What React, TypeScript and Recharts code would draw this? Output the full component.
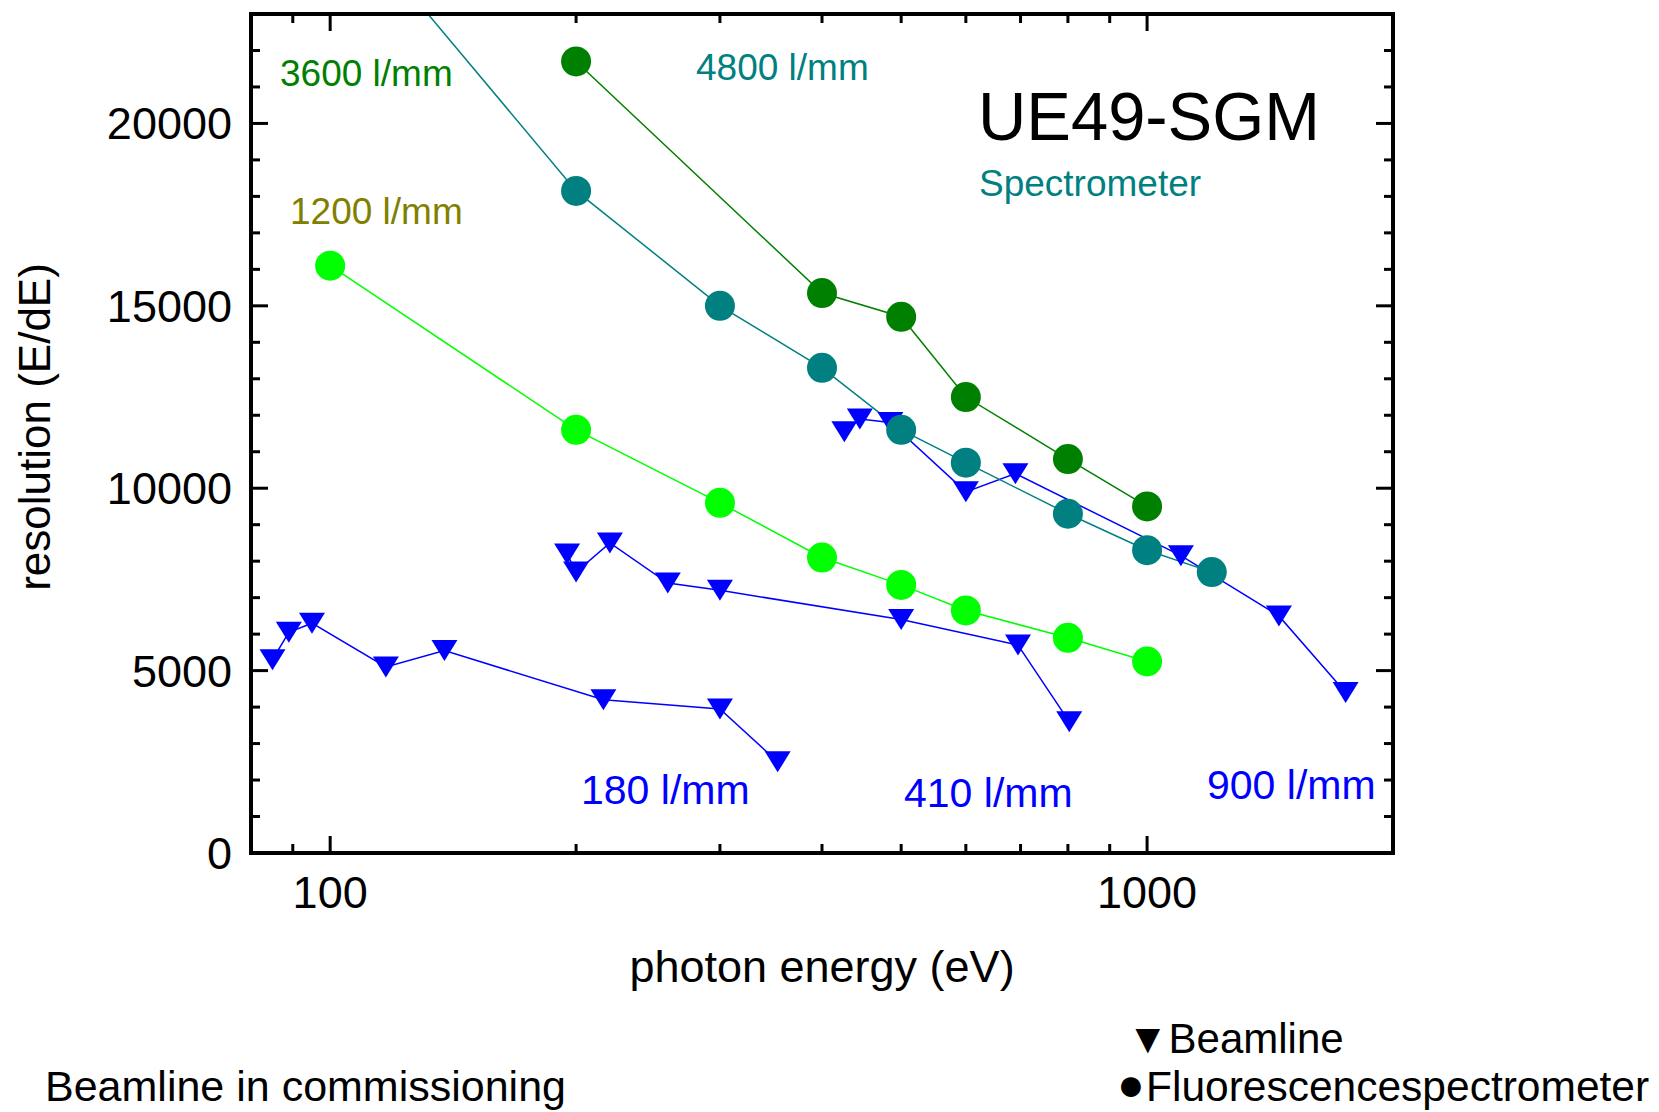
import React from "react";
import { LineChart, Line, XAxis, YAxis } from "recharts";

// photon energy (eV) and resolving power (E/dE)
const energy180 = [85, 89, 95, 117, 138, 216, 300, 353];
const res180 = [5300, 6050, 6300, 5100, 5550, 4200, 3950, 2500];

const energy410 = [195, 200, 220, 259, 300, 500, 695, 803];
const res410 = [8200, 7700, 8500, 7400, 7200, 6400, 5700, 3600];

const energy900 = [426, 445, 485, 600, 690, 1100, 1450, 1750];
const res900 = [11550, 11900, 11800, 9900, 10400, 8150, 6500, 4400];

const energy1200 = [100, 200, 300, 400, 500, 600, 800, 1000];
const res1200 = [16100, 11600, 9600, 8100, 7350, 6650, 5900, 5250];

const energy3600 = [200, 400, 500, 600, 800, 1000];
const res3600 = [21700, 15350, 14700, 12500, 10800, 9500];

// first point lies above the frame, only its line shows
const energy4800 = [100, 200, 300, 400, 500, 600, 800, 1000, 1200];
const res4800 = [26200, 18150, 15000, 13300, 11600, 10700, 9300, 8300, 7700];

const xTicks = [90, 100, 200, 300, 400, 500, 600, 700, 800, 900, 1000, 2000];
const xLabels = [100, 1000];
const yTicks = [
  0, 1000, 2000, 3000, 4000, 5000, 6000, 7000, 8000, 9000, 10000, 11000,
  12000, 13000, 14000, 15000, 16000, 17000, 18000, 19000, 20000, 21000, 22000,
];
const yLabels = [0, 5000, 10000, 15000, 20000];

const FONT = '"Liberation Sans", Arial, Helvetica, sans-serif';
const BLUE = "#0000ff";
const TEAL = "#008080";
const DKGREEN = "#008000";
const LIME = "#00ff00";

const toPoints = (xs: number[], ys: number[]) => xs.map((x, i) => ({ x, y: ys[i] }));

const MAJOR = 17;
const MINOR = 9;

// ticks point into the frame, like in Origin
function BottomTick({ x, y, payload }: any) {
  const major = xLabels.includes(payload.value);
  return (
    <g>
      <line x1={x} x2={x} y1={y} y2={y - (major ? MAJOR : MINOR)} stroke="#000" strokeWidth={3} />
      {major && (
        <text x={x} y={y + 55} textAnchor="middle" fontSize={45} fontFamily={FONT} fill="#000">
          {payload.value}
        </text>
      )}
    </g>
  );
}

function TopTick({ x, y, payload }: any) {
  const major = xLabels.includes(payload.value);
  return <line x1={x} x2={x} y1={y} y2={y + (major ? MAJOR : MINOR)} stroke="#000" strokeWidth={3} />;
}

function LeftTick({ x, y, payload }: any) {
  const major = yLabels.includes(payload.value);
  return (
    <g>
      <line x1={x} x2={x + (major ? MAJOR : MINOR)} y1={y} y2={y} stroke="#000" strokeWidth={3} />
      {major && (
        <text x={x - 19} y={y + 16} textAnchor="end" fontSize={45} fontFamily={FONT} fill="#000">
          {payload.value}
        </text>
      )}
    </g>
  );
}

function RightTick({ x, y, payload }: any) {
  const major = yLabels.includes(payload.value);
  return <line x1={x} x2={x - (major ? MAJOR : MINOR)} y1={y} y2={y} stroke="#000" strokeWidth={3} />;
}

// Origin style "down triangle" marker
const triangleDot = (props: any) => {
  const { cx, cy, index } = props;
  if (cx == null || cy == null) return <g key={`t-${index}`} />;
  return (
    <polygon
      key={`t-${index}`}
      points={`${cx - 13},${cy - 10.5} ${cx + 13},${cy - 10.5} ${cx},${cy + 10.5}`}
      fill={BLUE}
    />
  );
};

const circleDot = (color: string) => ({ r: 15, fill: color, stroke: "none", strokeWidth: 0 });

const axisLine = { stroke: "#000", strokeWidth: 4, strokeLinecap: "square" as const };

export default function App() {
  const lineProps = {
    type: "linear" as const,
    dataKey: "y",
    strokeWidth: 1.5,
    isAnimationActive: false,
    activeDot: false,
  };

  return (
    <div style={{ position: "absolute", left: 0, top: 0, width: 1659, height: 1112, background: "#fff" }}>
      <LineChart width={1659} height={1112} margin={{ top: 13, right: 265, bottom: 0, left: 0 }}>
        <XAxis
          dataKey="x"
          type="number"
          scale="log"
          domain={[80, 2000]}
          allowDataOverflow
          ticks={xTicks}
          interval={0}
          height={259}
          tickSize={0}
          tickMargin={0}
          tickLine={false}
          axisLine={axisLine}
          tick={<BottomTick />}
        />
        {/* mirrored frame: top and right axes carry ticks only */}
        <XAxis
          xAxisId="top"
          orientation="top"
          dataKey="x"
          type="number"
          scale="log"
          domain={[80, 2000]}
          allowDataOverflow
          ticks={xTicks}
          interval={0}
          height={1}
          tickSize={0}
          tickMargin={0}
          tickLine={false}
          axisLine={axisLine}
          tick={<TopTick />}
        />
        <YAxis
          type="number"
          domain={[0, 23000]}
          allowDataOverflow
          ticks={yTicks}
          interval={0}
          width={251}
          tickSize={0}
          tickMargin={0}
          tickLine={false}
          axisLine={axisLine}
          tick={<LeftTick />}
        />
        <YAxis
          yAxisId="right"
          orientation="right"
          type="number"
          domain={[0, 23000]}
          allowDataOverflow
          ticks={yTicks}
          interval={0}
          width={1}
          tickSize={0}
          tickMargin={0}
          tickLine={false}
          axisLine={axisLine}
          tick={<RightTick />}
        />

        <Line {...lineProps} data={toPoints(energy180, res180)} stroke={BLUE} dot={triangleDot} />
        <Line {...lineProps} data={toPoints(energy410, res410)} stroke={BLUE} dot={triangleDot} />
        <Line {...lineProps} data={toPoints(energy900, res900)} stroke={BLUE} dot={triangleDot} />
        <Line {...lineProps} data={toPoints(energy1200, res1200)} stroke={LIME} dot={circleDot(LIME)} />
        <Line {...lineProps} data={toPoints(energy4800, res4800)} stroke={TEAL} dot={circleDot(TEAL)} />
        <Line {...lineProps} data={toPoints(energy3600, res3600)} stroke={DKGREEN} dot={circleDot(DKGREEN)} />
      </LineChart>

      {/* annotations, axis titles and the hand-made legend */}
      <svg
        width={1659}
        height={1112}
        style={{ position: "absolute", left: 0, top: 0, pointerEvents: "none" }}
        fontFamily={FONT}
      >
        <text x={280} y={86} fontSize={37} fill={DKGREEN}>3600 l/mm</text>
        <text x={696} y={80} fontSize={37} fill={TEAL}>4800 l/mm</text>
        <text x={290} y={224} fontSize={37} fill="#808000">1200 l/mm</text>
        <text x={978} y={140} fontSize={69} fill="#000" textLength={342} lengthAdjust="spacingAndGlyphs">
          UE49-SGM
        </text>
        <text x={979} y={196} fontSize={37} fill={TEAL}>Spectrometer</text>
        <text x={581} y={804} fontSize={41} fill={BLUE}>180 l/mm</text>
        <text x={904} y={807} fontSize={41} fill={BLUE}>410 l/mm</text>
        <text x={1207} y={799} fontSize={41} fill={BLUE}>900 l/mm</text>

        <text x={822} y={982} fontSize={45} textAnchor="middle" fill="#000">photon energy (eV)</text>
        <text transform="translate(50,427) rotate(-90)" fontSize={44} textAnchor="middle" fill="#000">
          resolution (E/dE)
        </text>

        <text x={1127} y={1053} fontSize={42} fill="#000">▼Beamline</text>
        <text x={1117} y={1100} fontSize={46} fill="#000">●</text>
        <text x={1146} y={1101} fontSize={42.5} fill="#000">Fluorescencespectrometer</text>
        <text x={45} y={1101} fontSize={43} fill="#000">Beamline in commissioning</text>
      </svg>
    </div>
  );
}
